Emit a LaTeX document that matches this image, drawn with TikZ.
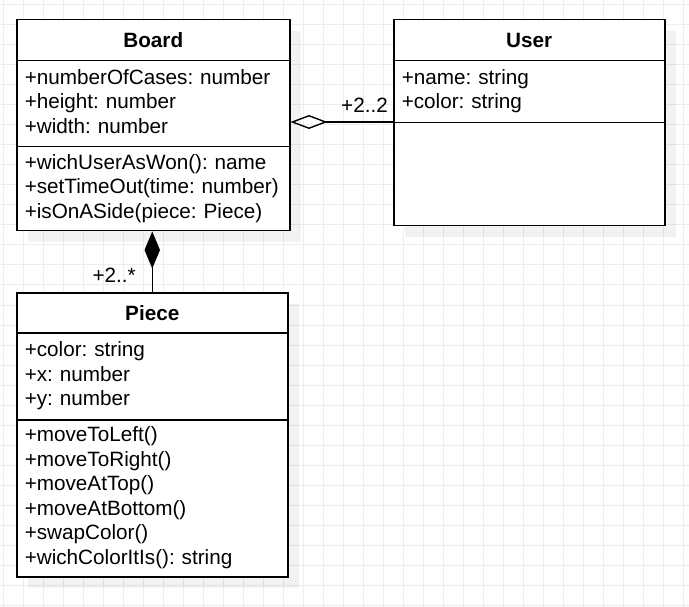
\documentclass[tikz,border=0pt]{standalone}
\usepackage{fontspec}
\setmainfont{Liberation Sans}
\usetikzlibrary{arrows.meta,shadows}
\frenchspacing

\begin{document}
\begin{tikzpicture}[x=1pt,y=-1pt,%
% common options for the class parts:
box/.style = {draw, line width=1.5pt, fill=white, anchor=north west,
            inner xsep=8pt, inner ysep=0pt,
            font=\fontsize{20.7}{24.5}\selectfont,
            drop shadow={shadow xshift=11pt, shadow yshift=-11pt,
                         fill=black, opacity=0.05}},
head/.style = {box, align=center, font=\fontsize{20.7}{24.5}\selectfont\bfseries},
body/.style = {box, align=left},
% common options for the links:
link/.style = {line width=1.4pt},
tag/.style = {anchor=base east, inner sep=0, font=\fontsize{20.7}{24.5}\selectfont},
gridline/.style = {line width=1pt, black!7}]
\useasboundingbox (0,0) rectangle (689,607);
\foreach \gx in {3,23,...,683} \draw[gridline] (\gx,0) -- (\gx,607);
\foreach \gy in {5,25,...,605} \draw[gridline] (0,\gy) -- (689,\gy);
\node[head, text width=257pt, minimum height=41pt] (B0) at (16,19) {Board};
\node[body, text width=257pt, minimum height=86pt] (B1) at (16,60) {\strut+numberOfCases: number\\\strut+height: number\\\strut+width: number};
\node[body, text width=257pt, minimum height=84pt] (B2) at (16,146) {\strut+wichUserAsWon(): name\\\strut+setTimeOut(time:~number)\\\strut+isOnASide(piece: Piece)};
\node[head, text width=255pt, minimum height=41pt] (U0) at (393,19) {User};
\node[body, text width=255pt, minimum height=62pt] (U1) at (393,60) {\strut+name: string\\\strut+color: string};
\node[body, text width=255pt, minimum height=103pt] (U2) at (393,122) {};
\node[head, text width=255pt, minimum height=40pt] (P0) at (16,292) {Piece};
\node[body, text width=255pt, minimum height=87pt] (P1) at (16,332) {\strut+color: string\\\strut+x: number\\\strut+y: number};
\node[body, text width=255pt, minimum height=157pt] (P2) at (16,419) {\strut+moveToLeft()\\\strut+moveToRight()\\\strut+moveAtTop()\\\strut+moveAtBottom()\\\strut+swapColor()\\\strut+wichColorItIs(): string};
\draw[link, -{Diamond[open,length=37pt,width=14pt]}] (U2.north west) to (U2.north west -| B1.east);
\draw[link, -{Diamond[length=37pt,width=15.5pt]}] (P0.north) to (P0.north |- B2.south);
\node[tag] (N1) at (388,113) {+2..2};
\node[tag] (N2) at (136,283) {+2..*};
\end{tikzpicture}
\end{document}
